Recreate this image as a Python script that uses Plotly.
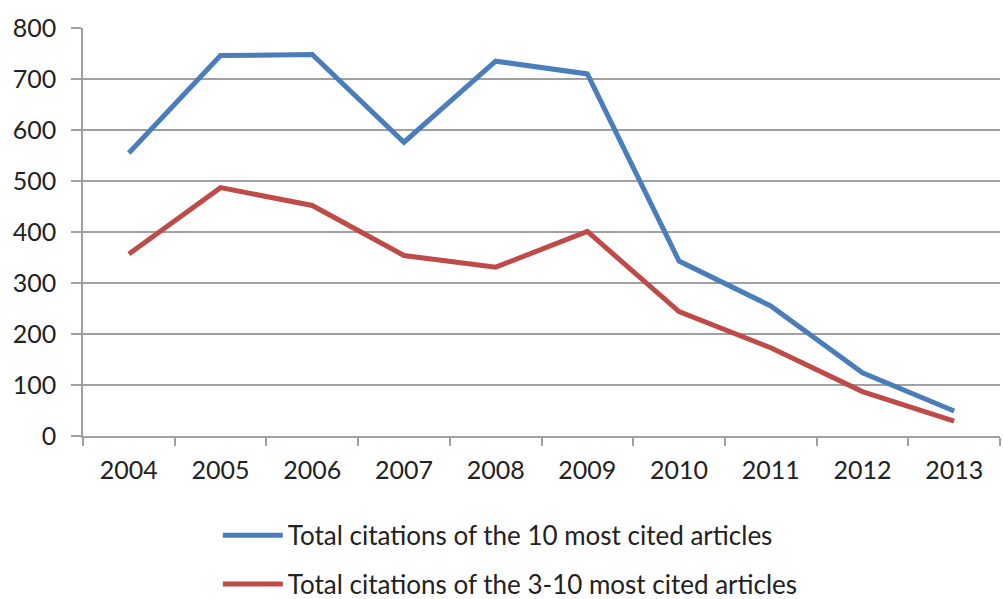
import plotly.graph_objects as go

years = ["2004", "2005", "2006", "2007", "2008", "2009", "2010", "2011", "2012", "2013"]
top10 = [555, 746, 748, 576, 735, 710, 343, 255, 124, 49]
top3_10 = [357, 487, 452, 354, 331, 401, 244, 173, 87, 29]

FONT = "Lato"
fig = go.Figure()
fig.add_trace(go.Scatter(x=years, y=top10, mode="lines", name="Total citations of the 10 most cited articles",
                         line=dict(color="#4A7EBB", width=5), legendgroup="a"))
fig.add_trace(go.Scatter(x=years, y=top3_10, mode="lines", name="Total citations of the 3-10 most cited articles",
                         line=dict(color="#BE4B48", width=5), legendgroup="b"))

fig.update_layout(
    width=1003, height=599,
    margin=dict(l=83, r=3, t=28, b=163, autoexpand=False),
    paper_bgcolor="white", plot_bgcolor="white",
    font=dict(family=FONT, size=25, color="#222"),
    showlegend=True,
    legend=dict(x=0.147, xanchor="left", y=-0.186, yanchor="top", orientation="v",
                tracegroupgap=12, itemwidth=60, font=dict(size=26, color="#222"),
                bgcolor="rgba(0,0,0,0)"),
    xaxis=dict(type="category", tickson="boundaries", showline=True, linecolor="#A0A0A0", linewidth=1.5,
               ticks="outside", ticklen=8, tickcolor="#A0A0A0", tickwidth=1.5, showgrid=False,
               range=[-0.5, 9.5], tickfont=dict(size=25), ticklabelstandoff=11),
    yaxis=dict(range=[0, 800], dtick=100, showline=True, linecolor="#A0A0A0", linewidth=1.5,
               ticks="outside", ticklen=10, tickcolor="#A0A0A0", tickwidth=1.5,
               showgrid=True, gridcolor="#A0A0A0", gridwidth=1.5, zeroline=False,
               tickfont=dict(size=25), ticklabelstandoff=10),
)
fig.write_html("out.html")
